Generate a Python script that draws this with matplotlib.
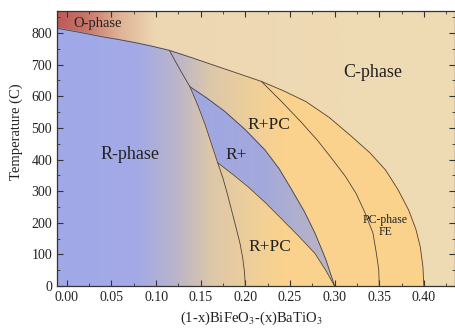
import numpy as np
import matplotlib
matplotlib.use("Agg")
import matplotlib.pyplot as plt
from matplotlib.ticker import MultipleLocator

plt.rcParams['font.family'] = ['Liberation Serif', 'DejaVu Serif']
plt.rcParams['mathtext.fontset'] = 'stix'

# phase boundaries (x = BaTiO3 fraction, T in C)
# outer envelope: O-phase boundary, then the C-phase boundary down to x=0.40
env_x = [-0.011, 0.013, 0.038, 0.057, 0.076, 0.096, 0.115, 0.140, 0.169, 0.193,
         0.218, 0.243, 0.268, 0.294, 0.319, 0.340, 0.357, 0.371, 0.383, 0.391,
         0.396, 0.399, 0.400]
env_T = [815, 803, 789, 780, 770, 758, 745, 722, 694, 671,
         647, 617, 583, 533, 473, 420, 367, 305, 240, 180,
         124, 60, 0]

# R-phase / R+PC boundary
r_x = [0.115, 0.126, 0.138, 0.147, 0.155, 0.162, 0.169, 0.175, 0.180, 0.185,
       0.190, 0.194, 0.197, 0.199, 0.200]
r_T = [745, 688, 630, 570, 510, 450, 390, 340, 290, 235,
       180, 135, 90, 45, 0]

# R+ lens, upper and lower edges
lens_up_x = [0.138, 0.157, 0.177, 0.200, 0.222, 0.238, 0.252, 0.266, 0.278, 0.290, 0.300]
lens_up_T = [630, 594, 552, 494, 430, 370, 304, 236, 167, 85, 0]

lens_lo_x = [0.169, 0.186, 0.203, 0.222, 0.240, 0.259, 0.278, 0.290, 0.300]
lens_lo_T = [390, 353, 314, 265, 214, 160, 103, 50, 0]

# R+PC / PC-phase FE boundary
pc_x = [0.218, 0.240, 0.262, 0.281, 0.298, 0.312, 0.324, 0.334, 0.343, 0.347, 0.3495, 0.350]
pc_T = [647, 585, 520, 460, 399, 347, 293, 232, 167, 100, 50, 0]

# labels: (text, x, T, size)
labels = [
    ("O-phase", 0.034, 831, 10.5),
    ("R-phase", 0.071, 415, 13),
    ("C-phase", 0.343, 675, 13),
    ("R+PC", 0.226, 509, 12.5),
    ("R+", 0.190, 414, 12.5),
    ("R+PC", 0.228, 124, 12.5),
    ("PC-phase\nFE", 0.357, 190, 8.5),
]

xlim = (-0.011, 0.435)
ylim = (0, 870)


def hexrgb(h):
    h = h.lstrip('#')
    return np.array([int(h[i:i + 2], 16) / 255 for i in (0, 2, 4)])


def ramp(v, stops):
    pos = [s[0] for s in stops]
    cols = np.array([hexrgb(s[1]) for s in stops])
    return np.stack([np.interp(v, pos, cols[:, k]) for k in range(3)], axis=-1)


# colour field
xs = np.linspace(*xlim, 900)
ts = np.linspace(*ylim, 700)
X, T = np.meshgrid(xs, ts)

T_env = np.interp(X, env_x, env_T)
x_r = np.interp(T, r_T[::-1], r_x[::-1])
x_lu = np.interp(T, lens_up_T[::-1], lens_up_x[::-1])
x_ll = np.interp(T, lens_lo_T[::-1], lens_lo_x[::-1])
x_left = np.where(T > 390, x_r, x_ll)

above = T > T_env
lens = (~above) & (T < 630) & (X > x_left) & (X < x_lu)

c_col = ramp(X, [(-0.011, '#bb5a58'), (0.02, '#c77468'), (0.06, '#e0b496'),
                 (0.10, '#edd7b3'), (0.44, '#efdcb3')])
base = ramp(X, [(-0.011, '#a0a8e8'), (0.08, '#a3aae6'), (0.12, '#b9b3cc'),
                (0.16, '#dcc7aa'), (0.20, '#ecce9c'), (0.24, '#fad28e'),
                (0.44, '#fcd38c')])
lens_col = ramp(X, [(0.13, '#9ea6e4'), (0.22, '#a4a9dc'), (0.30, '#bcb6c0')])

img = np.where(above[..., None], c_col, base)
img = np.where(lens[..., None], lens_col, img)

fig = plt.figure(figsize=(4.56, 3.31), dpi=100)
ax = fig.add_axes([0.125, 0.136, 0.873, 0.831])
ax.imshow(img, extent=[*xlim, *ylim], origin='lower', aspect='auto',
          interpolation='bilinear')

lc = dict(color='#4d4238', lw=0.6)
ax.plot(env_x, env_T, **lc)
ax.plot(r_x, r_T, **lc)
ax.plot(lens_up_x, lens_up_T, **lc)
ax.plot(lens_lo_x, lens_lo_T, **lc)
ax.plot(pc_x, pc_T, **lc)

for txt, x, t, s in labels:
    ax.text(x, t, txt, fontsize=s, ha='center', va='center', color='#222222',
            linespacing=1.0)

ax.set_xlim(*xlim)
ax.set_ylim(*ylim)
ax.xaxis.set_major_locator(MultipleLocator(0.05))
ax.xaxis.set_minor_locator(MultipleLocator(0.025))
ax.yaxis.set_major_locator(MultipleLocator(100))
ax.yaxis.set_minor_locator(MultipleLocator(50))
ax.xaxis.set_major_formatter(plt.FormatStrFormatter('%.2f'))
ax.tick_params(which='both', direction='in', top=True, right=True,
               colors='#333333', labelsize=10, labelcolor='#222222')
ax.tick_params(which='major', length=4, width=0.8)
ax.tick_params(which='minor', length=2, width=0.6)
for sp in ax.spines.values():
    sp.set_color('#333333')
    sp.set_linewidth(0.9)

ax.set_xlabel(r'(1-x)BiFeO$_3$-(x)BaTiO$_3$', fontsize=10.5, color='#222222')
ax.set_ylabel('Temperature (C)', fontsize=10.5, color='#222222')
ax.xaxis.set_label_coords(0.487, -0.085)
ax.yaxis.set_label_coords(-0.085, 0.56)

fig.savefig('out.png', dpi=100)
